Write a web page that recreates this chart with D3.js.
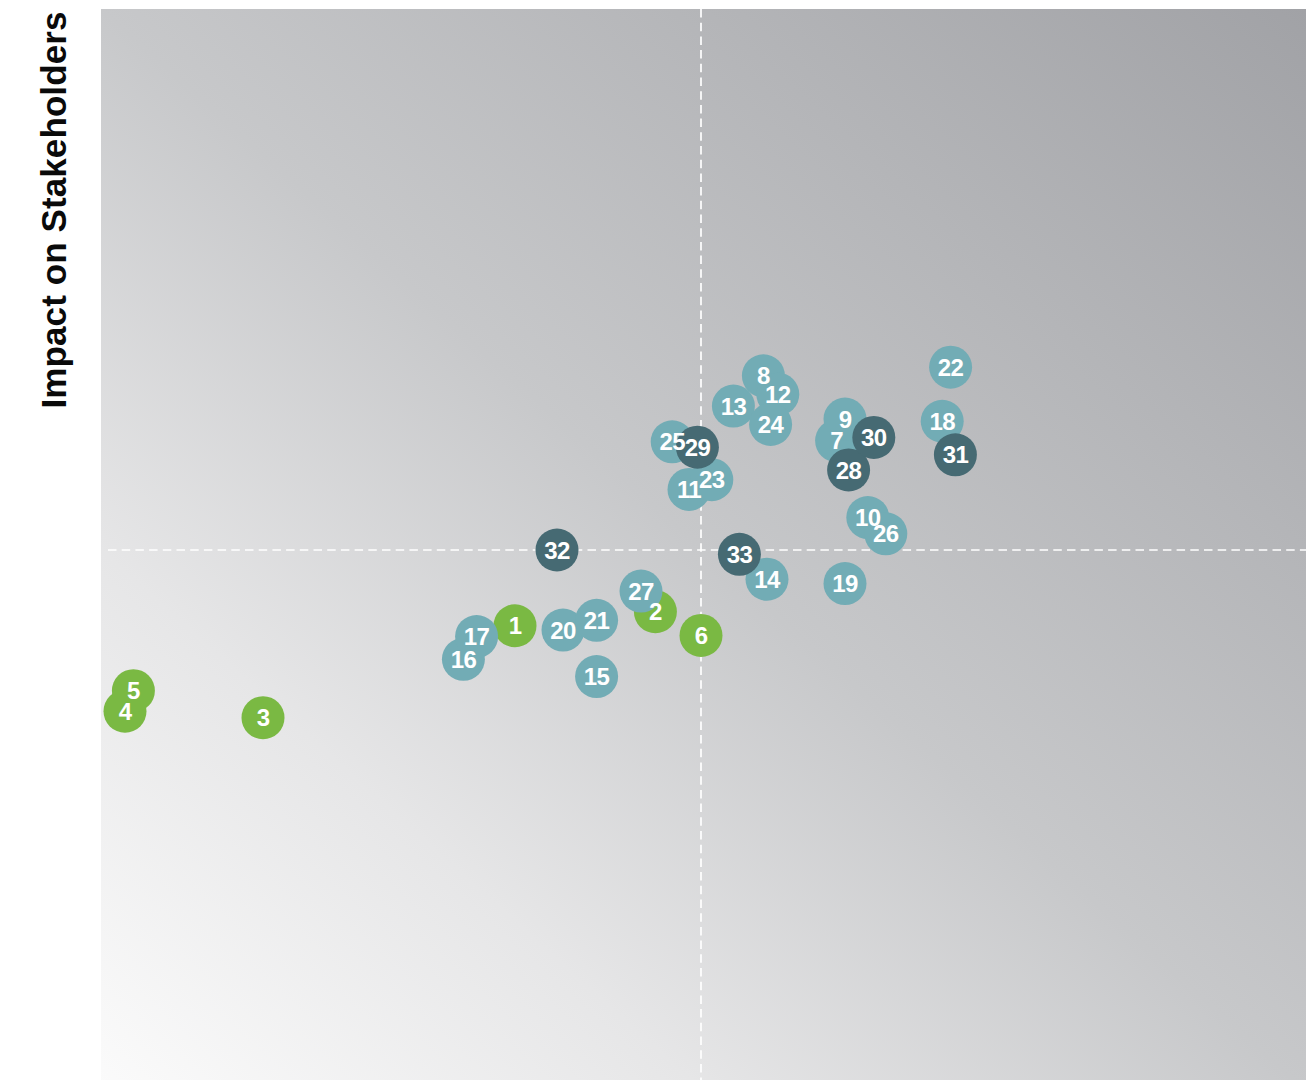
<!DOCTYPE html>
<html>
<head>
<meta charset="utf-8">
<script src="https://cdn.jsdelivr.net/npm/d3@7"></script>
<style>
  body { margin: 0; background: #fff; }
  svg { display: block; }
</style>
</head>
<body>
<div id="chart"></div>
<script>
// issue numbers, groups and scores (x: impact on business, y: impact on stakeholders)
var ids    = [1, 2, 3, 4, 5, 6, 7, 8, 9, 10, 11, 12, 13, 14, 15, 16, 17, 18, 19, 20, 21, 22, 23, 24, 25, 26, 27, 28, 29, 30, 31, 32, 33];
var groups = ["g", "g", "g", "g", "g", "g",
              "t", "t", "t", "t", "t", "t", "t", "t", "t", "t", "t", "t", "t", "t", "t",
              "t", "t", "t", "t", "t", "t",
              "d", "d", "d", "d", "d", "d"];
var xVals  = [3.45, 4.62, 1.35, 0.20, 0.27, 5.00, 6.13, 5.52, 6.20, 6.39, 4.90, 5.64, 5.27, 5.55, 4.13, 3.02, 3.13,
              7.01, 6.20, 3.85, 4.13, 7.08, 5.09, 5.58, 4.76, 6.54, 4.50, 6.23, 4.97, 6.44, 7.12, 3.80, 5.32];
var yVals  = [4.30, 4.43, 3.45, 3.51, 3.70, 4.21, 6.01, 6.61, 6.21, 5.30, 5.56, 6.44, 6.33, 4.73, 3.83, 3.99, 4.20,
              6.19, 4.69, 4.26, 4.35, 6.69, 5.65, 6.16, 6.00, 5.15, 4.62, 5.74, 5.95, 6.04, 5.88, 5.00, 4.96];
var groupColors = {g: "#7ab943", t: "#72acb5", d: "#466a73"};
var split = 5;

var width = 1316, height = 1080;

var svg = d3.select("#chart").append("svg")
    .attr("width", width)
    .attr("height", height);

var x = d3.scaleLinear().domain([0, 10]).range([101, 1301]);
var y = d3.scaleLinear().domain([0, 10]).range([1091, 9]);

// 背景渐变
var defs = svg.append("defs");
var grad = defs.append("linearGradient")
    .attr("id", "bg")
    .attr("x1", 0).attr("y1", 1)
    .attr("x2", 1).attr("y2", 0);
grad.append("stop").attr("offset", 0).attr("stop-color", "#fbfbfb");
grad.append("stop").attr("offset", 0.25).attr("stop-color", "#e6e6e7");
grad.append("stop").attr("offset", 0.5).attr("stop-color", "#c7c8ca");
grad.append("stop").attr("offset", 1).attr("stop-color", "#a1a2a6");

svg.append("rect")
    .attr("x", x(0))
    .attr("y", y(10))
    .attr("width", 1306 - x(0))
    .attr("height", y(0) - y(10))
    .attr("fill", "url(#bg)");

// 十字虚线
svg.append("line")
    .attr("x1", x(0) + 7).attr("x2", 1306)
    .attr("y1", y(split)).attr("y2", y(split))
    .attr("stroke", "#fff")
    .attr("stroke-width", 1.7)
    .attr("stroke-dasharray", "8.5,5.2");
svg.append("line")
    .attr("x1", x(split)).attr("x2", x(split))
    .attr("y1", y(10)).attr("y2", y(0))
    .attr("stroke", "#fff")
    .attr("stroke-width", 1.7)
    .attr("stroke-dasharray", "8.5,5.2");

var data = ids.map(function (id, i) {
    return {id: id, group: groups[i], x: xVals[i], y: yVals[i]};
});

// circles first, labels on top of all circles
svg.append("g").selectAll("circle")
    .data(data)
    .enter().append("circle")
    .attr("cx", function (d) { return x(d.x); })
    .attr("cy", function (d) { return y(d.y); })
    .attr("r", 21.5)
    .attr("fill", function (d) { return groupColors[d.group]; });

svg.append("g").selectAll("text")
    .data(data)
    .enter().append("text")
    .attr("x", function (d) { return x(d.x); })
    .attr("y", function (d) { return y(d.y); })
    .attr("dy", "0.36em")
    .attr("text-anchor", "middle")
    .attr("fill", "#fff")
    .attr("font-family", "Liberation Sans, Arial, sans-serif")
    .attr("font-weight", "bold")
    .attr("font-size", "24px")
    .attr("letter-spacing", "-0.6px")
    .text(function (d) { return d.id; });

// y轴标题
svg.append("text")
    .attr("transform", "translate(66,210) rotate(-90)")
    .attr("text-anchor", "middle")
    .attr("fill", "#0a0a0a")
    .attr("font-family", "Liberation Sans, Arial, sans-serif")
    .attr("font-weight", "bold")
    .attr("font-size", "35px")
    .attr("letter-spacing", "0.1px")
    .text("Impact on Stakeholders");
</script>
</body>
</html>
